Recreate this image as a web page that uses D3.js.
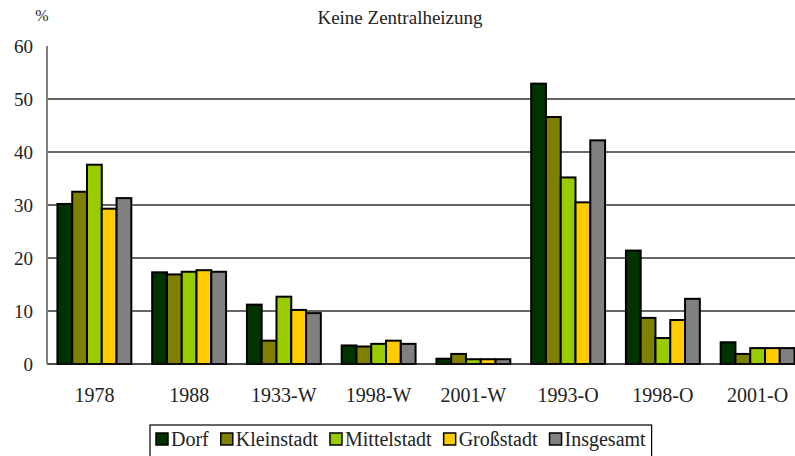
<!DOCTYPE html>
<html>
<head>
<meta charset="utf-8">
<script src="https://cdn.jsdelivr.net/npm/d3@7"></script>
<style>
  body { margin: 0; background: #fff; }
  text { font-family: "Liberation Serif", "DejaVu Serif", serif; fill: #222; }
</style>
</head>
<body>
<svg width="795" height="456"></svg>
<script>
var categories = ['1978', '1988', '1933-W', '1998-W', '2001-W', '1993-O', '1998-O', '2001-O'];
var seriesNames = ['Dorf', 'Kleinstadt', 'Mittelstadt', 'Großstadt', 'Insgesamt'];
var seriesColors = ['#003300', '#808000', '#99cc00', '#ffcc00', '#808080'];

var dorf        = [30.2, 17.3, 11.2, 3.5, 1.0, 52.9, 21.4, 4.1];
var kleinstadt  = [32.5, 16.9,  4.4, 3.3, 1.9, 46.6,  8.7, 1.9];
var mittelstadt = [37.6, 17.4, 12.7, 3.8, 0.9, 35.2,  4.9, 3.0];
var grossstadt  = [29.3, 17.7, 10.2, 4.4, 0.9, 30.5,  8.3, 3.0];
var insgesamt   = [31.3, 17.4,  9.6, 3.8, 0.9, 42.2, 12.3, 3.0];
var yTicks = [0, 10, 20, 30, 40, 50, 60];

var series = [dorf, kleinstadt, mittelstadt, grossstadt, insgesamt];

var svg = d3.select("svg");
var mLeft = 47, mTop = 46, mBottom = 364, mRight = 805;

var x = d3.scaleBand().domain(categories).range([mLeft, mRight]).paddingInner(0.22).paddingOuter(0.11);
var xs = d3.scaleBand().domain(seriesNames).range([0, x.bandwidth()]);
var y = d3.scaleLinear().domain([0, 60]).range([mBottom, mTop]);

// gridlines
svg.append("g").selectAll("line")
    .data(yTicks.filter(function(t) { return t > 0 && t < 60; }))
    .enter().append("line")
    .attr("x1", mLeft).attr("x2", 795)
    .attr("y1", function(d) { return y(d); })
    .attr("y2", function(d) { return y(d); })
    .attr("stroke", "#333").attr("stroke-width", 1.3);

// bars
var groups = svg.append("g").selectAll("g")
    .data(categories)
    .enter().append("g")
    .attr("transform", function(d) { return "translate(" + x(d) + ",0)"; });

groups.selectAll("rect")
    .data(function(d, i) { return series.map(function(s, k) { return {name: seriesNames[k], value: s[i], color: seriesColors[k]}; }); })
    .enter().append("rect")
    .attr("x", function(d) { return xs(d.name); })
    .attr("width", xs.bandwidth())
    .attr("y", function(d) { return y(d.value); })
    .attr("height", function(d) { return y(0) - y(d.value); })
    .attr("fill", function(d) { return d.color; })
    .attr("stroke", "#000").attr("stroke-width", 2);

// baseline and y axis
svg.append("line").attr("x1", mLeft).attr("x2", 795).attr("y1", y(0)).attr("y2", y(0))
    .attr("stroke", "#111").attr("stroke-width", 1.5);
svg.append("line").attr("x1", mLeft).attr("x2", mLeft).attr("y1", y(60)).attr("y2", y(0))
    .attr("stroke", "#808080").attr("stroke-width", 2);

// y labels
svg.append("g").selectAll("text")
    .data(yTicks)
    .enter().append("text")
    .attr("x", 33).attr("y", function(d) { return y(d); })
    .attr("dy", "0.35em")
    .attr("text-anchor", "end")
    .style("font-size", "19px")
    .text(function(d) { return d; });

// x labels
svg.append("g").selectAll("text")
    .data(categories)
    .enter().append("text")
    .attr("x", function(d) { return x(d) + x.bandwidth() / 2; })
    .attr("y", 402)
    .attr("text-anchor", "middle")
    .style("font-size", "20px")
    .text(function(d) { return d; });

// title and unit
svg.append("text").attr("x", 400).attr("y", 24).attr("text-anchor", "middle")
    .style("font-size", "19px").text("Keine Zentralheizung");
svg.append("text").attr("x", 42).attr("y", 21).attr("text-anchor", "middle")
    .style("font-size", "16px").text("%");

// legend
var legend = svg.append("g");
var lx = 156, ly = 439;
var box = legend.append("rect").attr("x", 150).attr("y", 425).attr("height", 40)
    .attr("fill", "#fff").attr("stroke", "#000").attr("stroke-width", 1.2);
seriesNames.forEach(function(name, k) {
    legend.append("rect").attr("x", lx).attr("y", ly - 6).attr("width", 12).attr("height", 12)
        .attr("fill", seriesColors[k]).attr("stroke", "#000").attr("stroke-width", 1.5);
    var t = legend.append("text").attr("x", lx + 15).attr("y", ly).attr("dy", "0.35em")
        .style("font-size", "20px").text(name);
    lx += 15 + t.node().getComputedTextLength() + 12;
});
box.attr("width", lx - 150 - 6);
</script>
</body>
</html>
